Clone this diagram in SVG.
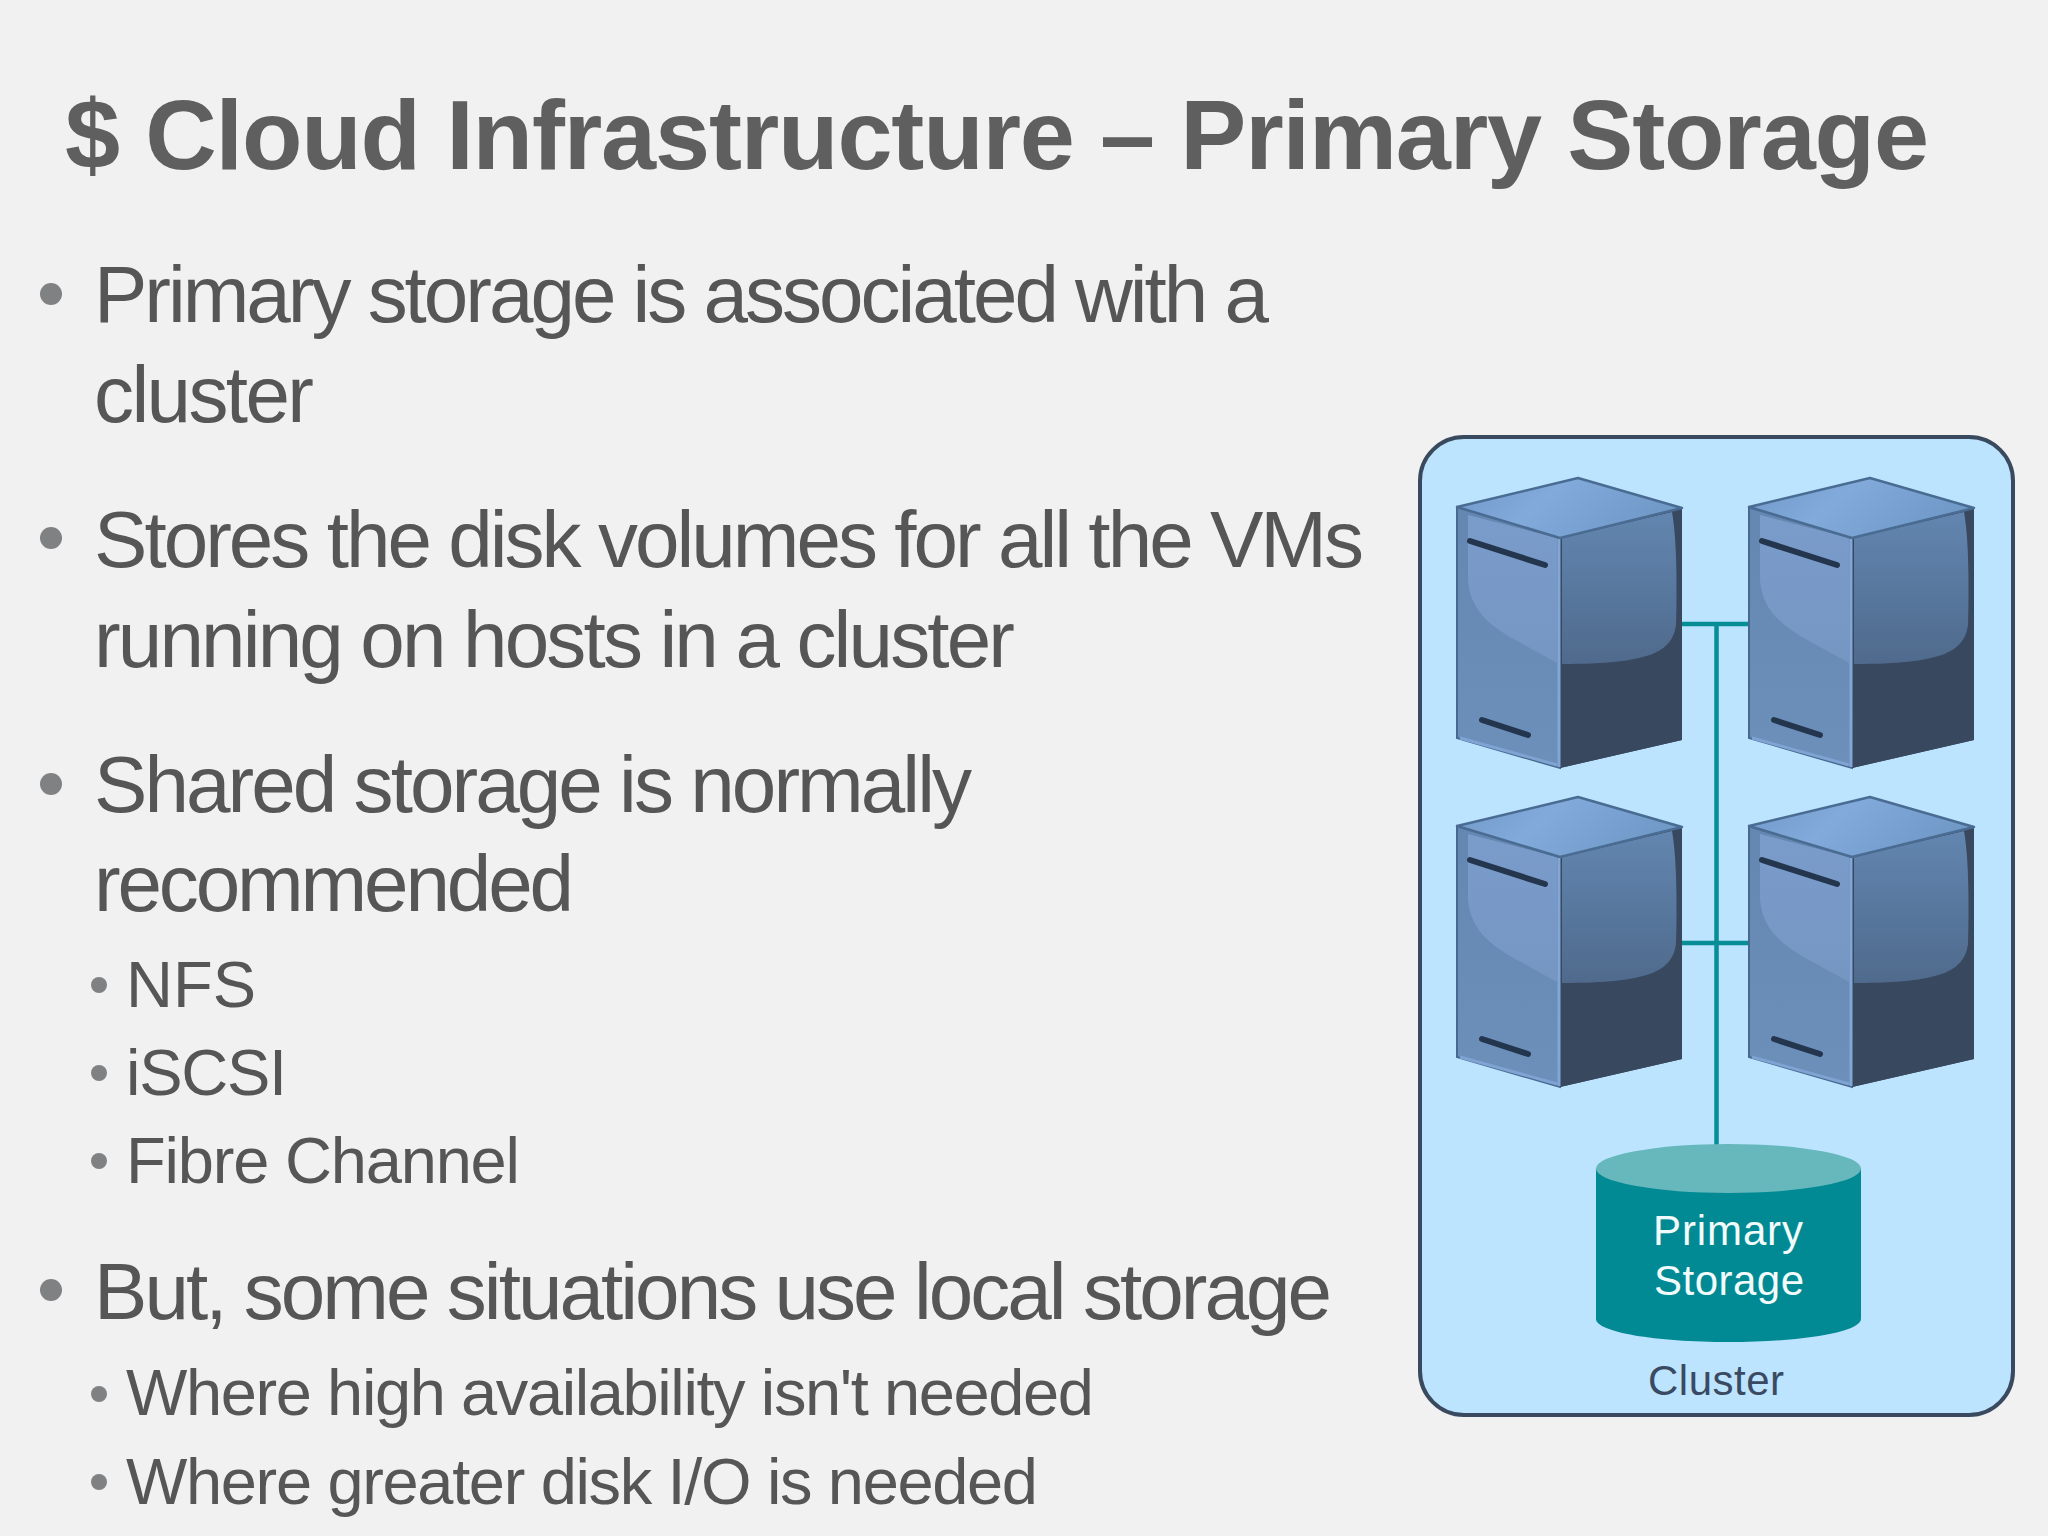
<svg xmlns="http://www.w3.org/2000/svg" width="2048" height="1536" viewBox="0 0 2048 1536">
<style>
text{font-family:"Liberation Sans",Arial,sans-serif}
.t{font-size:99px;font-weight:700;fill:#5f5f60}
.b{font-size:80px;fill:#565657}
.s{font-size:65px;fill:#565657}
.d{fill:#808183}
.c{fill:none;stroke:#068d96;stroke-width:4.500}
.l{font-size:42px;text-anchor:middle}
</style>
<defs>
<linearGradient id="gt" x1="0" y1="0" x2="1" y2="0.3"><stop offset="0" stop-color="#6f97c6"/><stop offset=".45" stop-color="#82aadb"/><stop offset="1" stop-color="#7099c8"/></linearGradient>
<linearGradient id="gl" x1="0" y1="0" x2="0" y2="1"><stop offset="0" stop-color="#6387b1"/><stop offset="1" stop-color="#6d90bb"/></linearGradient>
<linearGradient id="gs" x1="0" y1="0" x2="0" y2="1"><stop offset="0" stop-color="#7a9ccb"/><stop offset="1" stop-color="#7696c2"/></linearGradient>
<linearGradient id="gr" x1="0" y1="0" x2="0" y2="1"><stop offset="0" stop-color="#6286b0"/><stop offset="1" stop-color="#4f6a8c"/></linearGradient>
<g id="srv">
<path d="M1457 507L1578 478L1682 508L1682 740L1560 768L1457 738Z" fill="#38485f"/>
<path d="M1457 507L1560 538L1560 768L1457 738Z" fill="url(#gl)" stroke="#48698f" stroke-width="2"/>
<path d="M1468 515L1557 538V663L1510 637C1490 625 1470 610 1468 580Z" fill="url(#gs)"/>
<path d="M1560 538L1682 508L1682 740L1560 768Z" fill="#38485f"/>
<path d="M1562 538L1672 512C1677 540 1677 590 1676 625C1672 652 1650 664 1562 664Z" fill="url(#gr)"/>
<path d="M1457 507L1578 478L1682 508L1560 538Z" fill="url(#gt)" stroke="#4a6c92" stroke-width="2.500" stroke-linejoin="round"/>
<path d="M1559 539V767" stroke="#82a6d6" stroke-width="3"/>
<path d="M1460 738L1557 765" stroke="#7fa3d3" stroke-width="3" fill="none"/>
<path d="M1470 541L1545 565M1482 720L1528 735" stroke="#23364e" stroke-width="6" stroke-linecap="round" fill="none"/>
</g>
</defs>
<rect width="2048" height="1536" fill="#f1f1f1"/>
<text class="t" x="65" y="169" textLength="1864">$ Cloud Infrastructure – Primary Storage</text>
<g id="bullets" class="d">
<circle cx="51" cy="294" r="11"/><circle cx="51" cy="538" r="11"/><circle cx="51" cy="784" r="11"/><circle cx="51" cy="1290" r="11"/>
<circle cx="99" cy="985" r="8"/><circle cx="99" cy="1073" r="8"/><circle cx="99" cy="1161" r="8"/><circle cx="99" cy="1394" r="8"/><circle cx="99" cy="1482" r="8"/>
</g>
<g id="body">
<text class="b" x="94" y="322" textLength="1175">Primary storage is associated with a</text>
<text class="b" x="94" y="422" textLength="220">cluster</text>
<text class="b" x="94" y="567" textLength="1270">Stores the disk volumes for all the VMs</text>
<text class="b" x="94" y="667" textLength="921">running on hosts in a cluster</text>
<text class="b" x="94" y="812" textLength="878">Shared storage is normally</text>
<text class="b" x="94" y="911" textLength="480">recommended</text>
<text class="s" x="126" y="1007" textLength="130">NFS</text>
<text class="s" x="126" y="1095" textLength="161">iSCSI</text>
<text class="s" x="126" y="1183" textLength="394">Fibre Channel</text>
<text class="b" x="94" y="1319" textLength="1238">But, some situations use local storage</text>
<text class="s" x="126" y="1415" textLength="968">Where high availability isn't needed</text>
<text class="s" x="126" y="1504" textLength="912">Where greater disk I/O is needed</text>
</g>
<g id="cluster">
<rect x="1420" y="437" width="593" height="978" rx="44" ry="44" fill="#bde4fe" stroke="#3a4a5e" stroke-width="4"/>
<text class="l" x="1716" y="1395" fill="#3a4a62" textLength="136">Cluster</text>
</g>
<g id="connectors">
<path class="c" d="M1682 624H1749M1682 943H1749M1716.500 624V1146"/>
</g>
<g id="host1"><use href="#srv"/></g>
<g id="host2"><use href="#srv" x="292"/></g>
<g id="host3"><use href="#srv" y="319"/></g>
<g id="host4"><use href="#srv" x="292" y="319"/></g>
<g id="storage">
<path d="M1596 1169V1319C1596 1332 1655 1342 1728.500 1342C1802 1342 1861 1332 1861 1319V1169Z" fill="#028a94"/>
<ellipse cx="1728.500" cy="1168.500" rx="132.500" ry="24.500" fill="#67b8bd"/>
<text class="l" x="1728" y="1245" fill="#f2fbfb" textLength="150">Primary</text>
<text class="l" x="1729" y="1295" fill="#f2fbfb" textLength="150">Storage</text>
</g>
</svg>
